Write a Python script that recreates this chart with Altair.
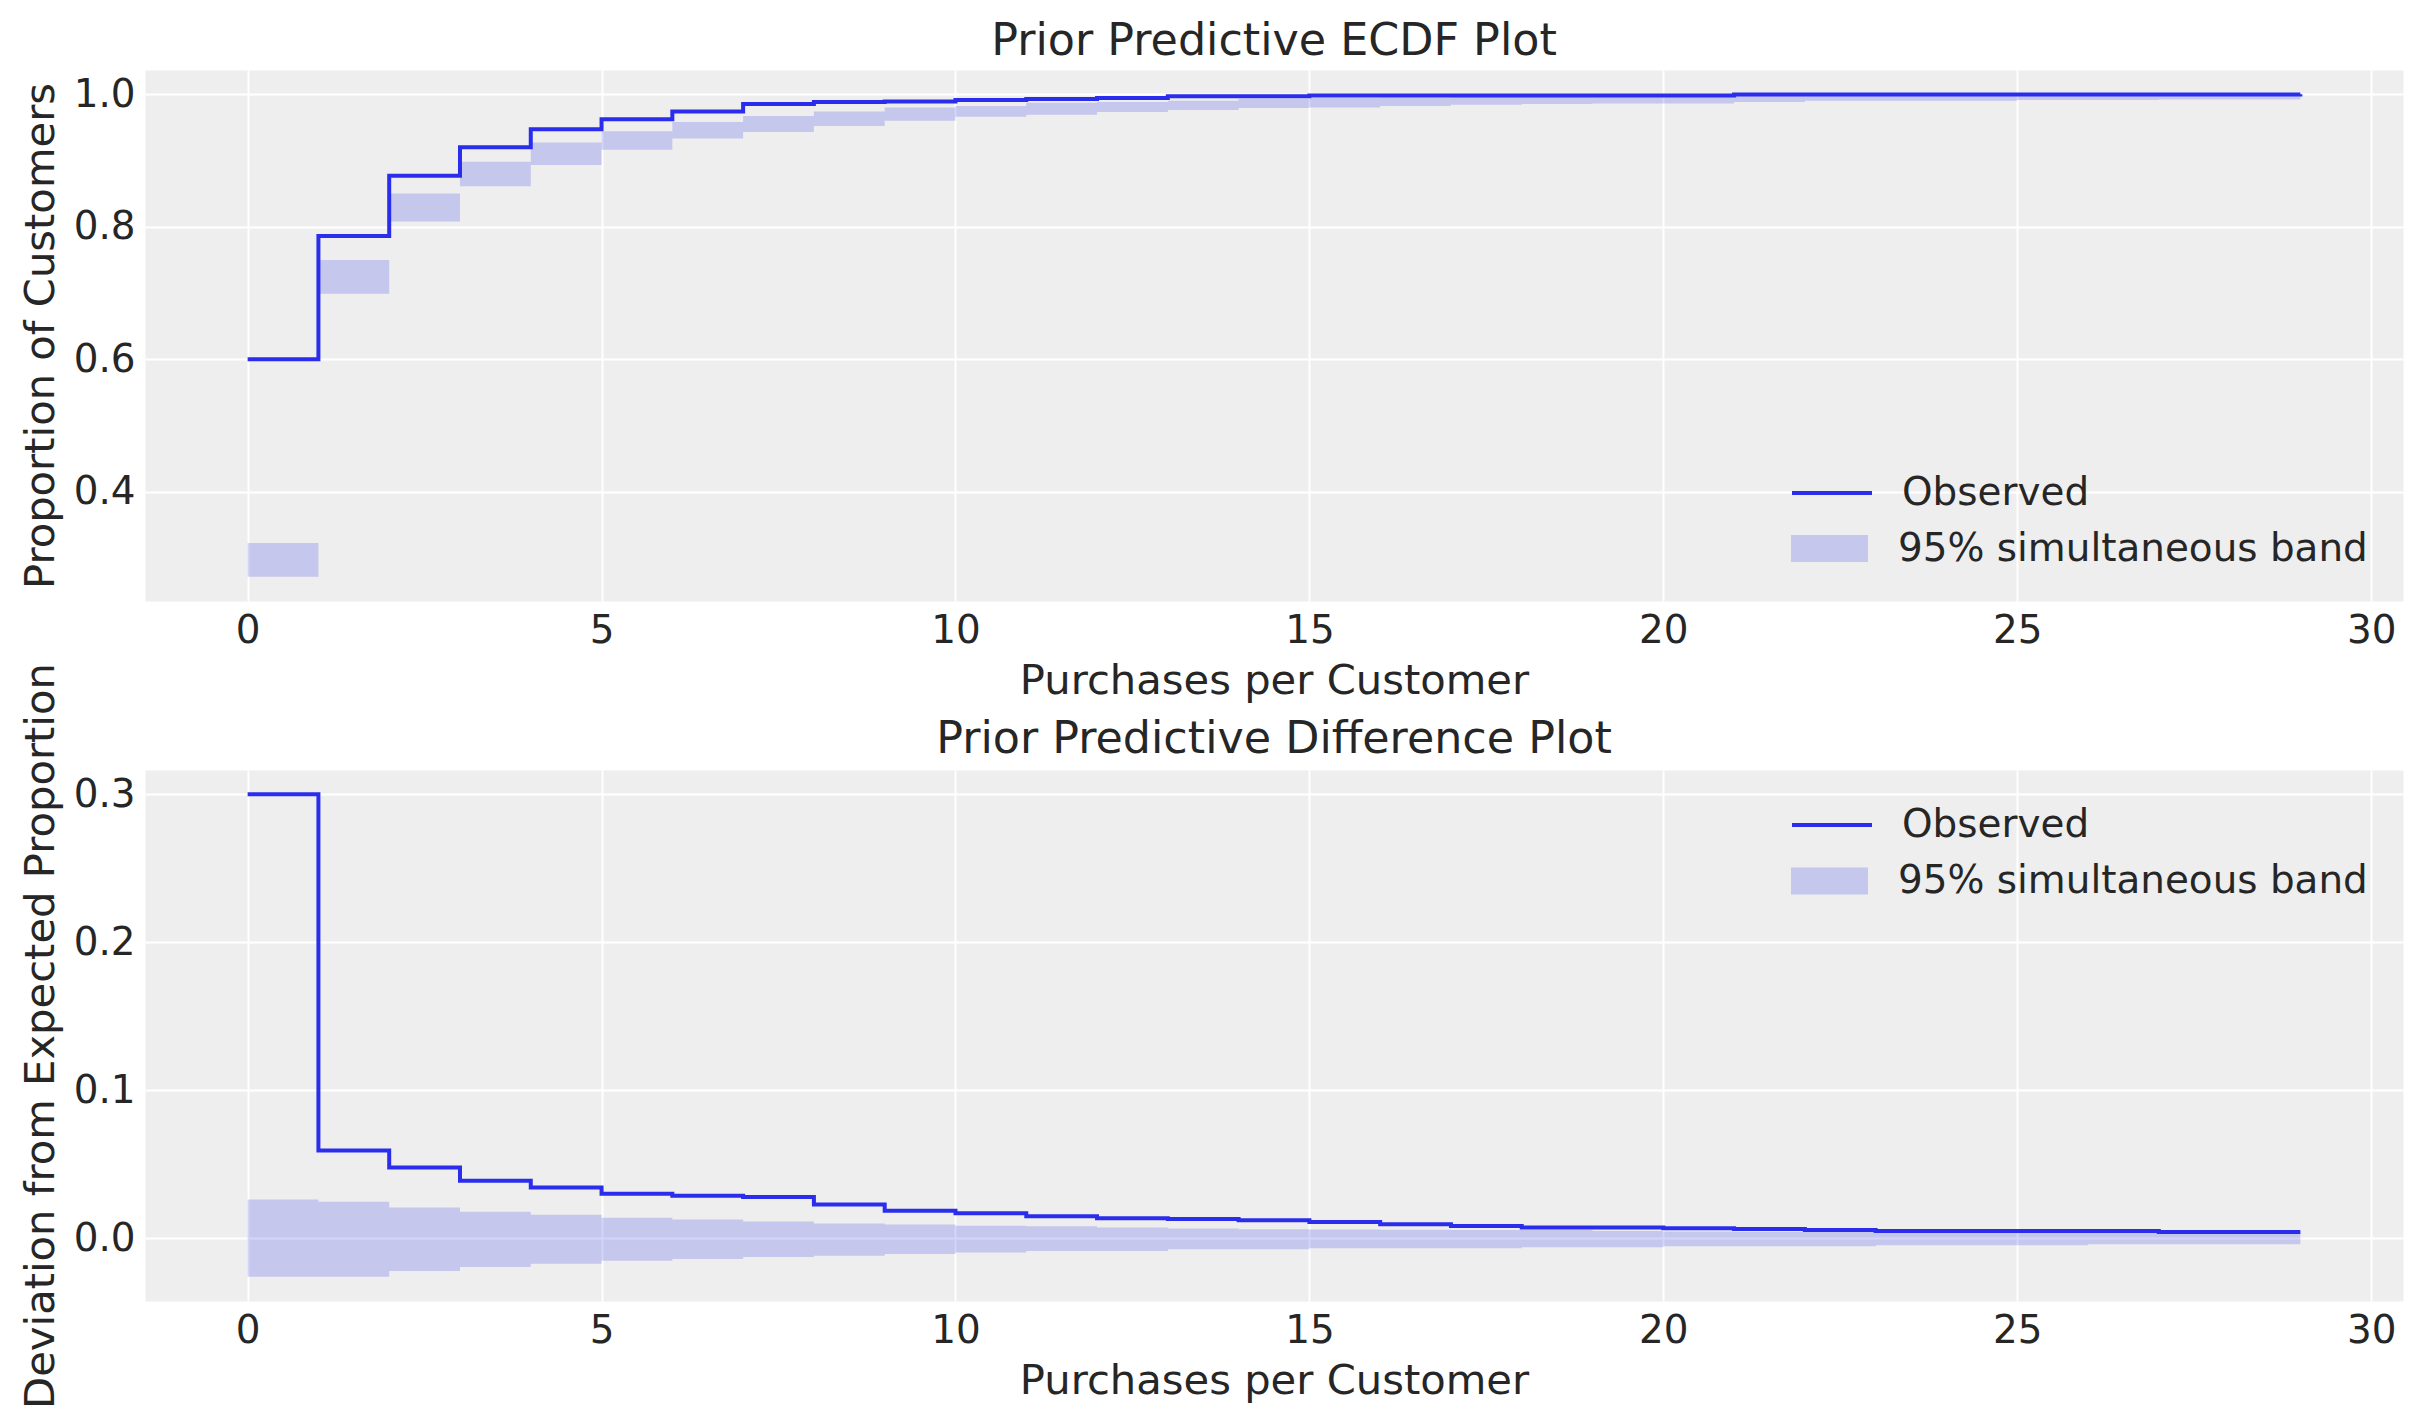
import altair as alt
import pandas as pd

# ---------------- data ----------------
purchases = list(range(30))

ecdf_observed = [0.600, 0.786, 0.877, 0.920, 0.947, 0.962, 0.974, 0.985, 0.988, 0.989,
                 0.991, 0.9925, 0.994, 0.997, 0.997, 0.998, 0.998, 0.998, 0.998, 0.998,
                 0.998, 0.9995, 0.9995, 0.9995, 0.9995, 0.9995, 0.9995, 0.9995, 0.9995, 1.0]
ecdf_band_low = [0.272, 0.699, 0.808, 0.861, 0.893, 0.916, 0.933, 0.943, 0.952, 0.960,
                 0.966, 0.969, 0.973, 0.976, 0.979, 0.980, 0.982, 0.984, 0.985, 0.986,
                 0.986, 0.988, 0.990, 0.990, 0.990, 0.991, 0.991, 0.992, 0.992, 0.992]
ecdf_band_high = [0.323, 0.750, 0.850, 0.898, 0.927, 0.944, 0.958, 0.967, 0.974, 0.980,
                  0.982, 0.987, 0.988, 0.990, 0.993, 0.994, 0.995, 0.996, 0.996, 0.996,
                  0.996, 1.000, 1.000, 1.000, 1.000, 1.000, 1.000, 1.000, 1.000, 1.000]

diff_observed = [0.300, 0.0594, 0.0479, 0.0389, 0.0344, 0.0302, 0.0287, 0.0279, 0.0229, 0.0187,
                 0.0170, 0.0150, 0.0136, 0.0130, 0.0123, 0.0110, 0.0096, 0.0083, 0.0074, 0.0074,
                 0.0069, 0.0063, 0.0056, 0.0049, 0.0049, 0.0049, 0.0049, 0.0043, 0.0043, 0.0043]
diff_band_high = [0.0262, 0.0248, 0.0208, 0.0180, 0.0160, 0.0140, 0.0127, 0.0114, 0.0101, 0.0093,
                  0.0086, 0.0081, 0.0074, 0.0067, 0.0061, 0.0060, 0.0059, 0.0056, 0.0056, 0.0049,
                  0.0047, 0.0045, 0.0044, 0.0043, 0.0042, 0.0041, 0.0040, 0.0039, 0.0038, 0.0038]
diff_band_low = [-0.0259, -0.0259, -0.0220, -0.0193, -0.0171, -0.0152, -0.0139, -0.0126, -0.0118, -0.0106,
                 -0.0095, -0.0085, -0.0085, -0.0074, -0.0074, -0.0067, -0.0067, -0.0067, -0.0060, -0.0060,
                 -0.0054, -0.0054, -0.0054, -0.0047, -0.0047, -0.0047, -0.0040, -0.0040, -0.0040, -0.0040]

x_ticks = [0, 5, 10, 15, 20, 25, 30]
ecdf_y_ticks = [0.4, 0.6, 0.8, 1.0]
diff_y_ticks = [0.0, 0.1, 0.2, 0.3]

line_label = "Observed"
band_label = "95% simultaneous band"
x_title = "Purchases per Customer"
ecdf_title = "Prior Predictive ECDF Plot"
diff_title = "Prior Predictive Difference Plot"
ecdf_y_title = "Proportion of Customers"
diff_y_title = "Deviation from Expected Proportion"

# ---------------- styling ----------------
FONT = "DejaVu Sans"
TXT = "#262626"
BLUE = "#2a2eec"
W, H = 2258, 531
LW = 4

top_df = pd.DataFrame({"x": purchases, "obs": ecdf_observed, "lo": ecdf_band_low,
                       "hi": ecdf_band_high, "line": line_label, "band": band_label})
bot_df = pd.DataFrame({"x": purchases, "obs": diff_observed, "lo": diff_band_low,
                       "hi": diff_band_high, "line": line_label, "band": band_label})


def panel(df, title, title_offset, y_title, y_domain, y_ticks, leg_line_y, leg_band_y):
    xscale = alt.Scale(domain=[-1.45, 30.45], nice=False, zero=False)
    yscale = alt.Scale(domain=y_domain, nice=False, zero=False)
    xaxis = alt.Axis(title=x_title, values=x_ticks, format="d")
    yaxis = alt.Axis(title=y_title, values=y_ticks, format=".1f")

    band = alt.Chart(df).mark_area(interpolate="step-after", opacity=0.2).encode(
        x=alt.X("x:Q", scale=xscale, axis=xaxis),
        y=alt.Y("lo:Q", scale=yscale, axis=yaxis),
        y2="hi:Q",
        fill=alt.Fill("band:N", scale=alt.Scale(domain=[band_label], range=[BLUE]),
                      legend=alt.Legend(title=None, orient="none", legendX=1646, legendY=leg_band_y,
                                        symbolType="M-1,-0.35L1,-0.35L1,0.35L-1,0.35Z",
                                        symbolSize=5929, symbolOpacity=0.2, symbolStrokeWidth=0,
                                        labelOffset=30, labelLimit=1000, padding=0)),
    )
    line = alt.Chart(df).mark_line(interpolate="step-after", strokeWidth=LW).encode(
        x=alt.X("x:Q", scale=xscale, axis=xaxis),
        y=alt.Y("obs:Q", scale=yscale, axis=yaxis),
        stroke=alt.Stroke("line:N", scale=alt.Scale(domain=[line_label], range=[BLUE]),
                          legend=alt.Legend(title=None, orient="none", legendX=1645, legendY=leg_line_y,
                                            symbolType="stroke", symbolSize=6400,
                                            symbolStrokeWidth=LW, labelOffset=28,
                                            labelLimit=1000, padding=0)),
    )
    return alt.layer(band, line).properties(
        width=W, height=H,
        title=alt.TitleParams(text=title, frame="group", anchor="middle", offset=title_offset),
    )


top = panel(top_df, ecdf_title, 6, ecdf_y_title, [0.2356, 1.0364], ecdf_y_ticks, 381, 440)
bottom = panel(bot_df, diff_title, -100, diff_y_title, [-0.0423, 0.3163], diff_y_ticks, 13, 72.5)

chart = (
    alt.vconcat(top, bottom, spacing=169, bounds="flush")
    .resolve_scale(x="independent", y="independent", stroke="independent", fill="independent")
    .resolve_legend(stroke="independent", fill="independent")
    .properties(padding={"left": 11, "top": 10, "right": 5, "bottom": 5}, background="white")
    .configure_view(fill="#eeeeee", stroke="transparent")
    .configure_axis(domain=False, ticks=False, grid=True, gridColor="white", gridWidth=1.9,
                    labelFont=FONT, labelFontSize=38.9, labelColor=TXT, labelPadding=10,
                    titleFont=FONT, titleFontSize=41.7, titleColor=TXT, titleFontWeight="normal",
                    titlePadding=11)
    .configure_legend(labelFont=FONT, labelFontSize=38.9, labelColor=TXT)
    .configure_title(font=FONT, fontSize=44.4, fontWeight="normal", color=TXT,
                     baseline="alphabetic")
)

chart.save("out.html", embed_options={"renderer": "svg", "actions": False})
